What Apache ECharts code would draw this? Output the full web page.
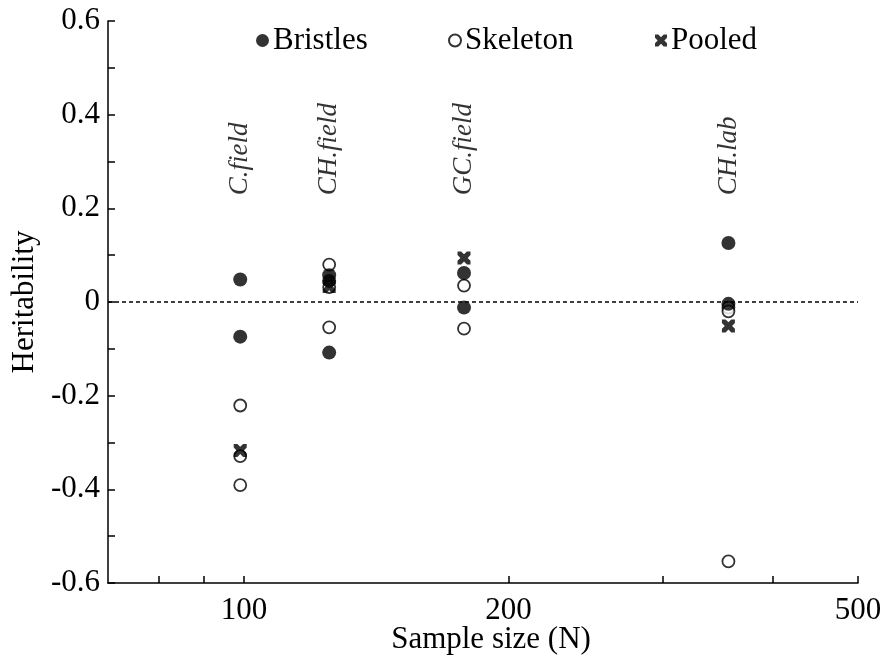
<!DOCTYPE html>
<html>
<head>
<meta charset="utf-8">
<script src="https://cdn.jsdelivr.net/npm/echarts@6/dist/echarts.min.js"></script>
<style>
  html, body { margin: 0; padding: 0; background: #fff; }
  #main { width: 890px; height: 660px; }
</style>
</head>
<body>
<div id="main"></div>
<script>
// populations and their sample sizes
var sites = ['C.field', 'CH.field', 'GC.field', 'CH.lab'];
var siteN = [99, 125, 178, 356];
var siteLabelY = [0.228, 0.228, 0.228, 0.228];

// [N, heritability]
var bristles = [[99, 0.048], [99, -0.074], [125, 0.057], [125, 0.045], [125, -0.108],
    [178, 0.062], [178, -0.012], [356, 0.126], [356, -0.004]];
var skeleton = [[99, -0.221], [99, -0.329], [99, -0.391], [125, 0.080], [125, 0.032], [125, -0.054],
    [178, 0.035], [178, -0.057], [356, -0.012], [356, -0.020], [356, -0.554]];
var pooled = [[99, -0.317], [125, 0.033], [178, 0.094], [356, -0.051]];

var xLabels = [100, 200, 500];
var xTicks = [80, 90, 100, 200, 300, 400, 500];

var serif = 'Liberation Serif';
var crossPath = 'path://M0,0 L2.8,0 L5,2.2 L7.2,0 L10,0 L10,2.8 L7.8,5 L10,7.2 L10,10 L7.2,10 L5,7.8 L2.8,10 L0,10 L0,7.2 L2.2,5 L0,2.8 Z';

var chart = echarts.init(document.getElementById('main'));

function legendAt(name, left, size) {
    return {
        data: [name],
        left: left,
        top: 20,
        itemWidth: size,
        itemHeight: size,
        itemGap: 4,
        textStyle: { fontFamily: serif, fontSize: 31, color: '#000', padding: [0, 0, 0, -1] }
    };
}

var option = {
    animation: false,
    backgroundColor: '#fff',
    legend: [legendAt('Bristles', 251, 13), legendAt('Skeleton', 443, 12), legendAt('Pooled', 650, 12)],
    grid: { left: 108, right: 32, top: 21, bottom: 77, containLabel: false, outerBoundsMode: 'none' },
    xAxis: {
        type: 'log',
        logBase: 10,
        min: 70,
        max: 500,
        name: 'Sample size (N)',
        nameLocation: 'middle',
        nameGap: 41,
        nameMoveOverlap: false,
        nameTextStyle: { fontFamily: serif, fontSize: 31, color: '#000', padding: [0, 0, 0, 16] },
        axisLine: { show: true, onZero: false, lineStyle: { color: '#000', width: 1.5 } },
        axisTick: { show: true, inside: true, length: 7, customValues: xTicks, lineStyle: { color: '#000', width: 1.5 } },
        axisLabel: { customValues: xLabels, fontFamily: serif, fontSize: 31, color: '#000', margin: 12 },
        splitLine: { show: false },
        minorTick: { show: false }
    },
    yAxis: {
        type: 'value',
        min: -0.6,
        max: 0.6,
        interval: 0.2,
        name: 'Heritability',
        nameLocation: 'middle',
        nameGap: 62,
        nameTextStyle: { fontFamily: serif, fontSize: 31, color: '#000' },
        axisLine: { show: true, onZero: false, lineStyle: { color: '#000', width: 1.5 } },
        axisTick: { show: true, inside: true, length: 7, lineStyle: { color: '#000', width: 1.5 } },
        minorTick: { show: true, splitNumber: 2, length: 7, lineStyle: { color: '#000', width: 1.5 } },
        axisLabel: {
            fontFamily: serif, fontSize: 31, color: '#000', margin: 8,
            formatter: function (v) { return Math.abs(v) < 1e-9 ? '0' : String(+v.toFixed(1)); }
        },
        splitLine: { show: false }
    },
    series: [
        {
            name: 'Bristles',
            type: 'scatter',
            symbol: 'circle',
            symbolSize: 14,
            itemStyle: { color: '#000' },
            data: bristles,
            z: 3,
            markLine: {
                silent: true,
                symbol: ['none', 'none'],
                label: { show: false },
                lineStyle: { color: '#000', type: [4, 3], width: 1.5 },
                data: [{ yAxis: 0 }]
            }
        },
        {
            name: 'Skeleton',
            type: 'scatter',
            symbol: 'circle',
            symbolSize: 12,
            itemStyle: { color: '#fff', borderColor: '#000', borderWidth: 1.8 },
            data: skeleton,
            z: 2
        },
        {
            name: 'Pooled',
            type: 'scatter',
            symbol: crossPath,
            symbolSize: 13,
            itemStyle: { color: '#000' },
            data: pooled,
            z: 4
        },
        {
            name: 'sites',
            type: 'scatter',
            symbol: 'circle',
            symbolSize: 1,
            silent: true,
            itemStyle: { color: 'rgba(0,0,0,0)' },
            data: siteN.map(function (n, i) { return [n, siteLabelY[i], sites[i]]; }),
            label: {
                show: true,
                position: 'inside',
                rotate: 90,
                align: 'left',
                verticalAlign: 'middle',
                fontFamily: serif,
                fontStyle: 'italic',
                fontSize: 27,
                color: '#000',
                formatter: function (p) { return p.data[2]; }
            }
        }
    ]
};

chart.setOption(option);
</script>
</body>
</html>
